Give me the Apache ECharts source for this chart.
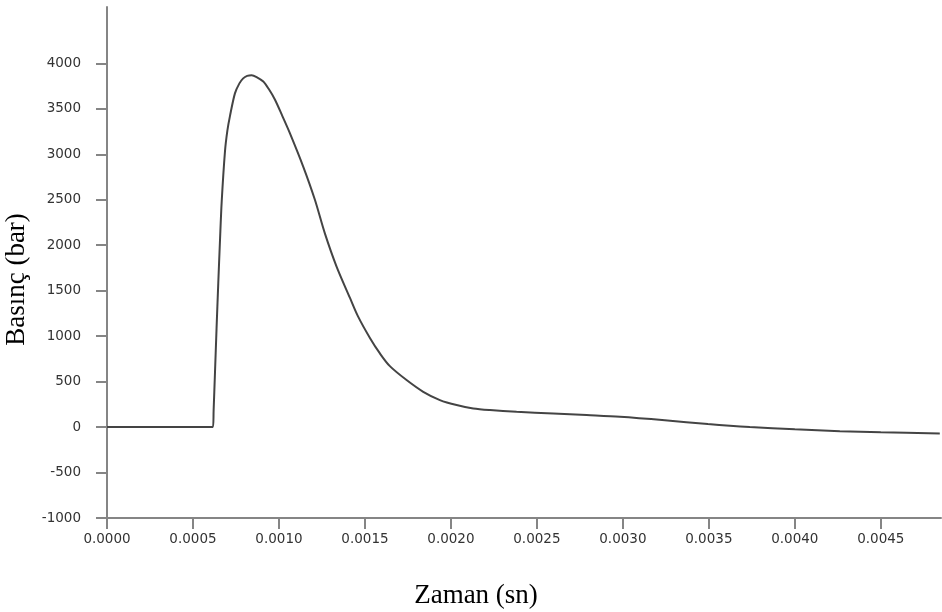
<!DOCTYPE html>
<html>
<head>
<meta charset="utf-8">
<script src="https://cdn.jsdelivr.net/npm/echarts@6/dist/echarts.min.js"></script>
<style>
  html, body { margin: 0; padding: 0; background: #fff; }
  #main { width: 942px; height: 612px; }
</style>
</head>
<body>
<div id="main"></div>
<script>
// zaman (sn) ve basinc (bar)
var timeSec = [0, 0.000616, 0.000620, 0.000628, 0.000637, 0.000647, 0.000657, 0.000667, 0.000686, 0.000700,
  0.000715, 0.000744, 0.000770, 0.000792, 0.000815, 0.000841, 0.000870, 0.000909, 0.000940, 0.000977,
  0.001020, 0.001064, 0.001141, 0.001209, 0.001267, 0.001335, 0.001413, 0.001459, 0.001529, 0.001587,
  0.001645, 0.001742, 0.001839, 0.001936, 0.002033, 0.002130, 0.002227, 0.002382, 0.002595, 0.002789,
  0.002983, 0.003244, 0.003494, 0.003738, 0.004000, 0.004262, 0.004500, 0.004843];
var pressureBar = [0, 0, 180, 600, 1080, 1580, 2050, 2480, 3030, 3260,
  3420, 3670, 3780, 3835, 3862, 3870, 3850, 3800, 3720, 3600,
  3420, 3230, 2865, 2500, 2130, 1765, 1420, 1220, 980, 810,
  670, 517, 388, 297, 242, 205, 187, 168, 150, 132,
  113, 75, 33, 0, -25, -45, -58, -70];

var xTicks = [0, 0.0005, 0.001, 0.0015, 0.002, 0.0025, 0.003, 0.0035, 0.004, 0.0045];
var yTicks = [-1000, -500, 0, 500, 1000, 1500, 2000, 2500, 3000, 3500, 4000];

var xName = 'Zaman (sn)';
var yName = 'Basınç (bar)';

var chart = echarts.init(document.getElementById('main'), null, { renderer: 'canvas' });

var points = timeSec.map(function (t, i) { return [t, pressureBar[i]]; });

var axisColor = '#858585';
var labelStyle = {
  color: '#333',
  fontFamily: 'DejaVu Sans',
  fontSize: 13.5
};

var option = {
  backgroundColor: '#fff',
  animation: false,
  grid: { left: 107, right: 1, top: 7, bottom: 94, containLabel: false, outerBoundsMode: 'none' },
  xAxis: {
    type: 'value',
    min: 0,
    max: 0.00485,
    interval: 0.0005,
    splitLine: { show: false },
    axisLine: { show: true, onZero: false, lineStyle: { color: axisColor, width: 2 } },
    axisTick: { show: true, length: 11, customValues: xTicks, lineStyle: { color: axisColor, width: 2 } },
    axisLabel: Object.assign({
      margin: 14,
      customValues: xTicks,
      formatter: function (v) { return v.toFixed(4); }
    }, labelStyle),
    name: xName,
    nameLocation: 'middle',
    nameGap: 64,
    nameTextStyle: {
      fontFamily: 'Liberation Serif',
      fontSize: 27,
      color: '#000',
      padding: [0, 96, 0, 0]
    }
  },
  yAxis: {
    type: 'value',
    min: -1000,
    max: 4620,
    interval: 500,
    splitLine: { show: false },
    axisLine: { show: true, onZero: false, lineStyle: { color: axisColor, width: 2 } },
    axisTick: { show: true, length: 11, customValues: yTicks, lineStyle: { color: axisColor, width: 2 } },
    axisLabel: Object.assign({
      margin: 26,
      customValues: yTicks,
      formatter: function (v) { return String(v); }
    }, labelStyle),
    name: yName,
    nameLocation: 'middle',
    nameRotate: 90,
    nameGap: 72,
    nameTextStyle: {
      fontFamily: 'Liberation Serif',
      fontSize: 27,
      color: '#000',
      padding: [0, 34, 0, 0]
    }
  },
  series: [
    {
      type: 'line',
      data: points,
      smooth: 0.3,
      showSymbol: false,
      lineStyle: { color: '#444', width: 2 }
    }
  ]
};

chart.setOption(option);
</script>
</body>
</html>
